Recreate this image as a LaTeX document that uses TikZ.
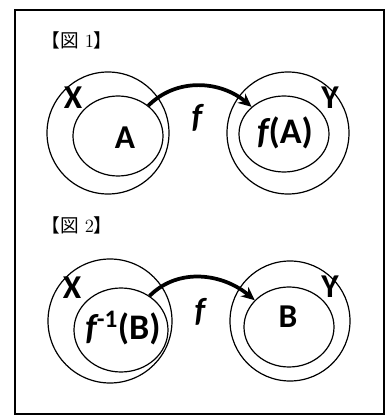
\documentclass[tikz,border=0pt]{standalone}
\usepackage{fontspec}
\newfontfamily\cjk{Noto Sans CJK JP}
\newfontfamily\lblfont{Carlito}
\usetikzlibrary{positioning, arrows.meta, shapes.geometric}

\begin{document}
\begin{tikzpicture}[
    x=0.75pt, y=0.75pt,
    >=Stealth,
    set/.style={draw, ellipse, line width=0.9pt, inner sep=0pt},
    lbl/.style={font=\lblfont\bfseries\fontsize{25}{29}\selectfont, inner sep=0pt},
    big/.style={font=\lblfont\bfseries\fontsize{27}{31}\selectfont, inner sep=0pt},
    ttl/.style={font=\fontsize{14}{16}\selectfont, inner sep=0pt},
    map/.style={-{Stealth[length=10pt, width=9pt]}, line width=2.8pt}
]
\useasboundingbox (0,0) rectangle (387,415);
\draw[line width=1pt] (15,1) rectangle (384,405);

%---------------- Figure 1 ----------------
\node[ttl] (t1) at (77,375) {{\cjk 【図} 1{\cjk 】}};

\node[set, minimum width=91.5pt, minimum height=91.5pt] (X1) at (108,282) {};
\node[set, minimum width=67.5pt, minimum height=60pt] (A) at (118,279) {};
\node[lbl] (xlab1) at (73,317) {X};
\node[lbl] (alab) at (125,277) {A};

\node[set, minimum width=91.5pt, minimum height=91.5pt] (Y1) at (288,282) {};
\node[set, minimum width=67.5pt, minimum height=57pt] (fA) at (284,281) {};
\node[lbl] (ylab1) at (330,317) {Y};
\node[big] (falab) at (285,282) {\itshape f\upshape(A)};

\node[lbl] (f1) at (197,297) {\itshape f};
\draw[map] (A.45) to[out=45, in=140] (fA.140);

%---------------- Figure 2 ----------------
\node[ttl] (t2) at (77,190) {{\cjk 【図} 2{\cjk 】}};

\node[set, minimum width=93pt, minimum height=93pt] (X2) at (110,94) {};
\node[set, minimum width=70.5pt, minimum height=63pt] (Binv) at (121,85) {};
\node[lbl] (xlab2) at (72,127) {X};
\node[big] (binvlab) at (123,87) {\itshape f\upshape\textsuperscript{-1}(B)};

\node[set, minimum width=90pt, minimum height=90pt] (Y2) at (290,94) {};
\node[set, minimum width=67.5pt, minimum height=60pt] (B) at (289,88) {};
\node[lbl] (ylab2) at (330,128) {Y};
\node[lbl] (blab) at (288,98) {B};

\node[lbl] (f2) at (200,103) {\itshape f};
\draw[map] (Binv.50) to[out=45, in=140] (B.142);

\end{tikzpicture}
\end{document}
